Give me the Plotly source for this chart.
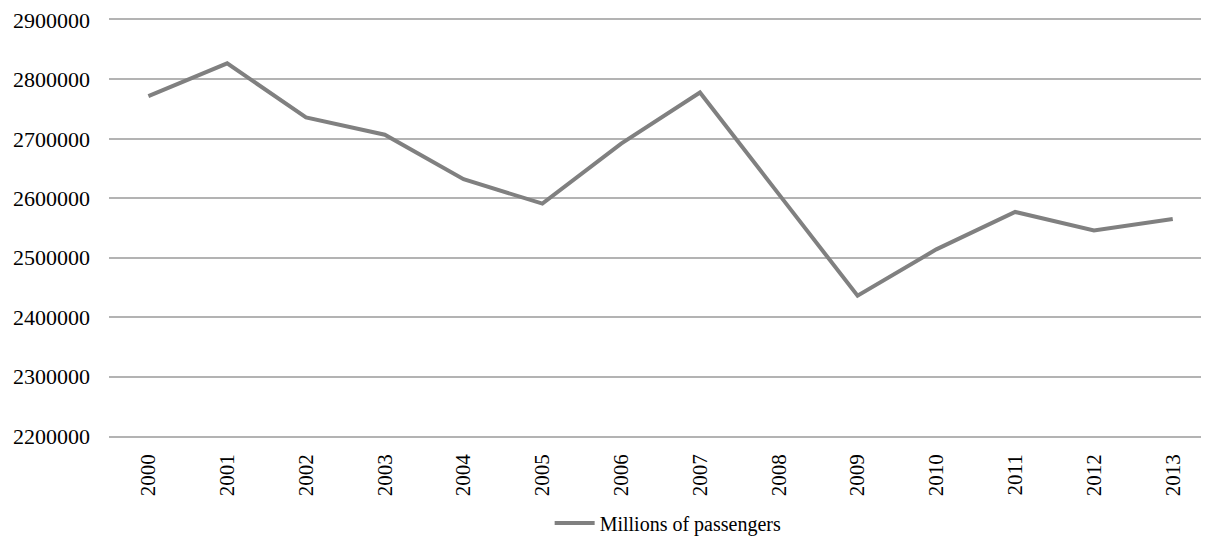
import plotly.graph_objects as go

years = ["2000", "2001", "2002", "2003", "2004", "2005", "2006",
         "2007", "2008", "2009", "2010", "2011", "2012", "2013"]
passengers = [2772000, 2827000, 2736000, 2707000, 2632000, 2591000, 2692000,
              2778000, 2607000, 2436000, 2514000, 2577000, 2546000, 2565000]
y_ticks = [2200000, 2300000, 2400000, 2500000, 2600000, 2700000, 2800000, 2900000]
series_name = "Millions of passengers"

font_family = "Liberation Serif, Times New Roman, serif"
grid_col = "#b3b3b3"

fig = go.Figure()
fig.add_trace(go.Scatter(
    x=list(range(len(years))), y=passengers, mode="lines", name=series_name,
    line=dict(color="#808080", width=4),
    showlegend=True,
))

fig.update_layout(
    width=1201, height=529,
    margin=dict(l=101, r=0, t=12, b=101, autoexpand=False),
    paper_bgcolor="white", plot_bgcolor="white",
    font=dict(family=font_family, color="#000000", size=21),
    showlegend=True,
    legend=dict(orientation="h", xref="container", yref="paper",
                x=0.451, xanchor="left", y=-0.209, yanchor="middle",
                font=dict(size=20, family=font_family),
                itemwidth=40, tracegroupgap=0, bgcolor="rgba(0,0,0,0)"),
)

fig.update_xaxes(
    tickmode="array", tickvals=list(range(len(years))), ticktext=years,
    range=[-0.5, 13.46], tickangle=-90, showgrid=False, zeroline=False,
    showline=True, mirror=True, linecolor=grid_col, linewidth=1.5,
    ticks="", ticklabelstandoff=8, automargin=False,
    ticklabeloverflow="allow",
    tickfont=dict(size=21, family=font_family),
)
fig.update_yaxes(
    range=[2200000, 2900000], tickmode="array", tickvals=y_ticks,
    ticktext=[str(v) for v in y_ticks],
    showgrid=True, gridcolor=grid_col, gridwidth=1.5, zeroline=False,
    showline=False, ticks="", ticklabelstandoff=18, automargin=False,
    ticklabeloverflow="allow",
    tickfont=dict(size=22, family=font_family),
)

fig.write_html("out.html")
